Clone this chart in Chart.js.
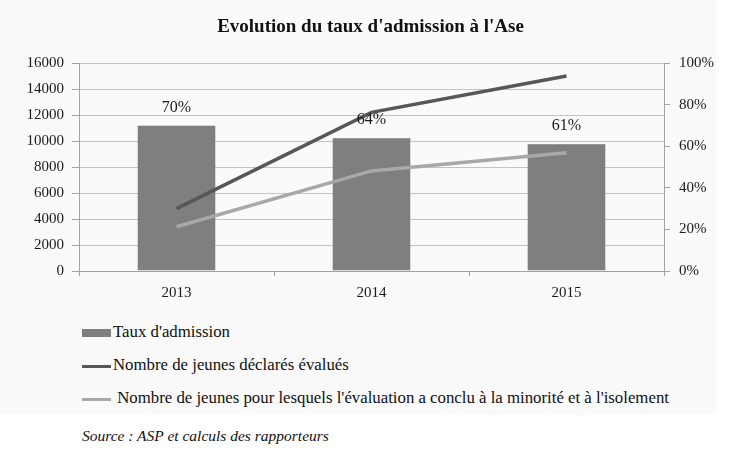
<!DOCTYPE html>
<html lang="fr">
<head>
<meta charset="utf-8">
<title>Evolution du taux d'admission à l'Ase</title>
<script src="https://cdn.jsdelivr.net/npm/chart.js@4.4.1/dist/chart.umd.min.js"></script>
<style>
  body { margin: 0; background: #ffffff; }
  #wrap { position: relative; width: 741px; height: 463px; overflow: hidden; font-family: 'Liberation Serif', serif; color: #111; }
  #panel { position: absolute; left: 0; top: 0; width: 716px; height: 414px; background: #fafafa; }
  #chartBox { position: absolute; left: 0; top: 0; width: 741px; height: 310px; }
  #legend { position: absolute; left: 82px; top: 315px; margin: 0; padding: 0; list-style: none; font-size: 16.8px; }
  #legend li { height: 33px; line-height: 33px; white-space: pre; }
  #legend .swatch { display: inline-block; width: 29px; vertical-align: middle; margin-right: 2px; }
  #source { position: absolute; left: 82px; top: 427px; font-size: 15.5px; font-style: italic; }
</style>
</head>
<body>
<div id="wrap">
  <div id="panel"></div>
  <div id="chartBox"><canvas id="admissionChart"></canvas></div>
  <ul id="legend"></ul>
  <div id="source">Source : ASP et calculs des rapporteurs</div>
</div>

<script>
// --------------------------------------------------- DATA
const years = ['2013', '2014', '2015']
const admissionRate = [70, 64, 61]
const declaredYouths = [4800, 12200, 15000]
const minorIsolatedYouths = [3400, 7700, 9100]
const countTicks = [0, 2000, 4000, 6000, 8000, 10000, 12000, 14000, 16000]
const rateTicks = [0, 20, 40, 60, 80, 100]

// --------------------------------------------------- STYLE
const serif = 'Liberation Serif'
const barGrey = '#7f7f7f'
const darkLine = '#575757'
const lightLine = '#a8a8a8'
const gridGrey = '#c4c4c4'
const axisGrey = '#a3a3a3'

// --------------------------------------------------- PLUGINS
const barLabels = {
  id: 'barLabels',
  afterDatasetsDraw(chart) {
    const ctx = chart.ctx
    const meta = chart.getDatasetMeta(0)
    ctx.save()
    ctx.font = `16px "${serif}"`
    ctx.fillStyle = '#1a1a1a'
    ctx.textAlign = 'center'
    ctx.textBaseline = 'middle'
    meta.data.forEach((bar, i) => {
      ctx.fillText(`${admissionRate[i]}%`, bar.x, bar.y - 18)
    })
    ctx.restore()
  }
}

// --------------------------------------------------- CHART
const admissionChart = new Chart(document.getElementById('admissionChart'), {
  data: {
    labels: years,
    datasets: [{
      type: 'bar',
      label: "Taux d'admission",
      data: admissionRate,
      yAxisID: 'y1',
      backgroundColor: barGrey,
      borderColor: '#6e6e6e',
      borderWidth: 0.5,
      categoryPercentage: 1,
      barPercentage: 0.4,
      order: 3
    },
    {
      type: 'line',
      label: 'Nombre de jeunes déclarés évalués',
      data: declaredYouths,
      yAxisID: 'y',
      borderColor: darkLine,
      backgroundColor: darkLine,
      borderWidth: 3.5,
      pointRadius: 0,
      tension: 0,
      order: 1
    },
    {
      type: 'line',
      label: " Nombre de jeunes pour lesquels l'évaluation a conclu à la minorité et à l'isolement",
      data: minorIsolatedYouths,
      yAxisID: 'y',
      borderColor: lightLine,
      backgroundColor: lightLine,
      borderWidth: 3.5,
      pointRadius: 0,
      tension: 0,
      order: 2
    }]
  },
  options: {
    responsive: true,
    maintainAspectRatio: false,
    animation: false,
    layout: { padding: 0 },
    plugins: {
      legend: { display: false },
      tooltip: { enabled: false },
      title: {
        display: true,
        text: "Evolution du taux d'admission à l'Ase",
        color: '#111',
        font: { family: serif, size: 19, weight: 'bold' },
        padding: { top: 15.6, bottom: 24.6 }
      }
    },
    scales: {
      x: {
        offset: true,
        grid: { offset: true, drawOnChartArea: false, drawTicks: true, tickLength: 5, tickColor: axisGrey },
        border: { display: true, color: axisGrey, width: 1 },
        ticks: { color: '#1a1a1a', font: { family: serif, size: 15 }, padding: 8, maxRotation: 0 },
        afterFit: (scale) => { scale.height = 39 }
      },
      y: {
        position: 'left',
        min: 0,
        max: 16000,
        afterBuildTicks: (scale) => { scale.ticks = countTicks.map(v => ({ value: v })) },
        grid: { color: gridGrey, tickLength: 7, tickColor: axisGrey },
        border: { display: true, color: axisGrey, width: 1 },
        ticks: { color: '#1a1a1a', font: { family: serif, size: 15 }, padding: 8, callback: (v) => String(v) },
        afterFit: (scale) => { scale.width = 79 }
      },
      y1: {
        position: 'right',
        min: 0,
        max: 100,
        afterBuildTicks: (scale) => { scale.ticks = rateTicks.map(v => ({ value: v })) },
        grid: { drawOnChartArea: false, tickLength: 6, tickColor: axisGrey },
        border: { display: true, color: axisGrey, width: 1 },
        ticks: { color: '#1a1a1a', font: { family: serif, size: 15 }, padding: 9, callback: (v) => `${v}%` },
        afterFit: (scale) => { scale.width = 77 }
      }
    }
  },
  plugins: [barLabels]
})

// --------------------------------------------------- LEGEND
const legendList = document.getElementById('legend')
admissionChart.data.datasets.forEach((dataset) => {
  const item = document.createElement('li')
  const swatch = document.createElement('span')
  swatch.className = 'swatch'
  if (dataset.type === 'bar') {
    swatch.style.height = '8px'
    swatch.style.background = dataset.backgroundColor
  } else {
    swatch.style.height = '3px'
    swatch.style.background = dataset.borderColor
  }
  item.appendChild(swatch)
  item.appendChild(document.createTextNode(dataset.label))
  legendList.appendChild(item)
})
</script>
</body>
</html>
